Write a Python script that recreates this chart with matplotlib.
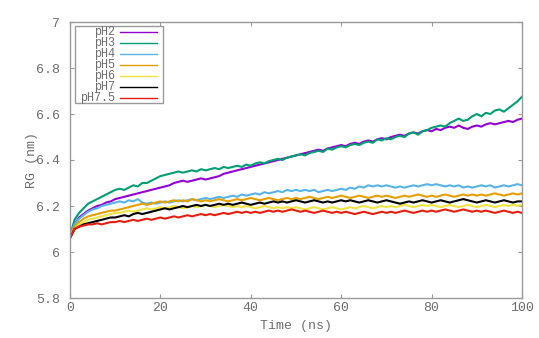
"""
plot.py
Radius of gyration vs time for the pH series, gnuplot look.
"""

import numpy as np
import matplotlib
matplotlib.use("Agg")
import matplotlib.pyplot as plt

# ---- data (1 ns steps) ----
TIME = np.arange(0, 101)

RG_PH2 = [6.07, 6.12, 6.15, 6.165, 6.18, 6.19, 6.20, 6.205, 6.215, 6.22, 6.23,
          6.235, 6.24, 6.245, 6.25, 6.255, 6.26, 6.265, 6.27, 6.275, 6.28,
          6.285, 6.29, 6.30, 6.305, 6.31, 6.305, 6.31, 6.315, 6.32, 6.315,
          6.32, 6.325, 6.33, 6.34, 6.345, 6.35, 6.355, 6.36, 6.365, 6.37,
          6.375, 6.38, 6.385, 6.39, 6.395, 6.40, 6.405, 6.41, 6.415, 6.42,
          6.425, 6.43, 6.435, 6.44, 6.445, 6.44, 6.45, 6.455, 6.46, 6.465,
          6.46, 6.47, 6.475, 6.47, 6.48, 6.485, 6.48, 6.49, 6.495, 6.49,
          6.50, 6.505, 6.51, 6.505, 6.515, 6.52, 6.515, 6.525, 6.53, 6.525,
          6.535, 6.53, 6.54, 6.545, 6.54, 6.55, 6.54, 6.535, 6.545, 6.55,
          6.545, 6.555, 6.56, 6.555, 6.56, 6.565, 6.57, 6.565, 6.575, 6.58]

RG_PH3 = [6.07, 6.14, 6.17, 6.19, 6.21, 6.22, 6.23, 6.24, 6.25, 6.26, 6.27,
          6.275, 6.27, 6.28, 6.29, 6.285, 6.30, 6.30, 6.31, 6.32, 6.33,
          6.335, 6.34, 6.345, 6.35, 6.345, 6.35, 6.355, 6.35, 6.36, 6.355,
          6.36, 6.365, 6.36, 6.37, 6.365, 6.37, 6.375, 6.37, 6.38, 6.375,
          6.385, 6.39, 6.385, 6.395, 6.40, 6.405, 6.40, 6.41, 6.415, 6.42,
          6.425, 6.42, 6.43, 6.435, 6.44, 6.435, 6.45, 6.445, 6.455, 6.46,
          6.455, 6.465, 6.47, 6.465, 6.475, 6.48, 6.475, 6.49, 6.485, 6.495,
          6.49, 6.50, 6.505, 6.50, 6.515, 6.52, 6.51, 6.525, 6.53, 6.54,
          6.545, 6.55, 6.545, 6.56, 6.57, 6.58, 6.57, 6.575, 6.59, 6.60,
          6.59, 6.605, 6.60, 6.615, 6.62, 6.61, 6.625, 6.64, 6.655, 6.675]

RG_PH4 = [6.07, 6.12, 6.145, 6.16, 6.175, 6.185, 6.19, 6.20, 6.205, 6.21, 6.215,
          6.22, 6.215, 6.225, 6.22, 6.23, 6.215, 6.21, 6.215, 6.21, 6.215,
          6.22, 6.215, 6.22, 6.225, 6.22, 6.225, 6.23, 6.225, 6.23, 6.235,
          6.23, 6.235, 6.24, 6.235, 6.24, 6.245, 6.24, 6.25, 6.245, 6.25,
          6.255, 6.25, 6.26, 6.255, 6.26, 6.265, 6.26, 6.27, 6.265, 6.27,
          6.265, 6.27, 6.265, 6.27, 6.26, 6.265, 6.27, 6.265, 6.27, 6.275,
          6.27, 6.28, 6.275, 6.285, 6.28, 6.29, 6.285, 6.29, 6.285, 6.29,
          6.285, 6.28, 6.285, 6.28, 6.285, 6.29, 6.285, 6.29, 6.295, 6.29,
          6.295, 6.29, 6.285, 6.29, 6.285, 6.29, 6.28, 6.285, 6.28, 6.285,
          6.29, 6.285, 6.29, 6.28, 6.285, 6.29, 6.285, 6.29, 6.295, 6.29]

RG_PH5 = [6.07, 6.11, 6.13, 6.145, 6.155, 6.16, 6.165, 6.17, 6.175, 6.18, 6.18,
          6.185, 6.19, 6.195, 6.20, 6.205, 6.21, 6.205, 6.21, 6.215, 6.22,
          6.215, 6.22, 6.225, 6.22, 6.225, 6.22, 6.23, 6.225, 6.22, 6.225,
          6.22, 6.225, 6.23, 6.225, 6.22, 6.225, 6.23, 6.225, 6.23, 6.235,
          6.23, 6.225, 6.23, 6.235, 6.23, 6.225, 6.23, 6.235, 6.23, 6.235,
          6.23, 6.235, 6.24, 6.235, 6.23, 6.235, 6.24, 6.235, 6.24, 6.245,
          6.24, 6.235, 6.24, 6.245, 6.24, 6.235, 6.24, 6.245, 6.24, 6.245,
          6.24, 6.235, 6.24, 6.245, 6.24, 6.245, 6.25, 6.245, 6.24, 6.245,
          6.24, 6.245, 6.25, 6.245, 6.24, 6.245, 6.25, 6.245, 6.25, 6.245,
          6.25, 6.245, 6.25, 6.255, 6.25, 6.245, 6.25, 6.255, 6.25, 6.255]

RG_PH6 = [6.07, 6.10, 6.12, 6.13, 6.14, 6.145, 6.15, 6.155, 6.16, 6.165, 6.17,
          6.17, 6.175, 6.18, 6.175, 6.18, 6.185, 6.19, 6.185, 6.19, 6.195,
          6.19, 6.195, 6.20, 6.195, 6.19, 6.195, 6.20, 6.195, 6.20, 6.205,
          6.20, 6.195, 6.20, 6.205, 6.20, 6.195, 6.20, 6.195, 6.20, 6.195,
          6.19, 6.195, 6.20, 6.195, 6.19, 6.195, 6.19, 6.195, 6.19, 6.195,
          6.19, 6.185, 6.19, 6.195, 6.19, 6.185, 6.19, 6.195, 6.19, 6.185,
          6.19, 6.195, 6.19, 6.195, 6.20, 6.195, 6.19, 6.195, 6.20, 6.195,
          6.20, 6.195, 6.20, 6.205, 6.20, 6.195, 6.20, 6.205, 6.20, 6.205,
          6.20, 6.195, 6.20, 6.205, 6.20, 6.195, 6.20, 6.205, 6.20, 6.195,
          6.20, 6.205, 6.20, 6.195, 6.20, 6.205, 6.20, 6.205, 6.20, 6.205]

RG_PH7 = [6.06, 6.10, 6.11, 6.12, 6.125, 6.13, 6.135, 6.14, 6.145, 6.15, 6.15,
          6.155, 6.16, 6.155, 6.165, 6.17, 6.165, 6.17, 6.175, 6.18, 6.185,
          6.19, 6.185, 6.19, 6.195, 6.20, 6.195, 6.20, 6.205, 6.20, 6.205,
          6.20, 6.205, 6.21, 6.205, 6.21, 6.205, 6.21, 6.215, 6.21, 6.205,
          6.21, 6.215, 6.21, 6.215, 6.22, 6.215, 6.22, 6.215, 6.22, 6.225,
          6.22, 6.215, 6.22, 6.225, 6.22, 6.215, 6.22, 6.215, 6.22, 6.225,
          6.22, 6.225, 6.22, 6.215, 6.22, 6.225, 6.22, 6.215, 6.22, 6.225,
          6.22, 6.215, 6.21, 6.215, 6.22, 6.215, 6.22, 6.225, 6.22, 6.215,
          6.22, 6.225, 6.22, 6.215, 6.22, 6.225, 6.23, 6.225, 6.22, 6.215,
          6.22, 6.225, 6.22, 6.215, 6.22, 6.225, 6.22, 6.215, 6.22, 6.22]

RG_PH75 = [6.06, 6.10, 6.11, 6.115, 6.12, 6.12, 6.125, 6.12, 6.125, 6.13, 6.13,
           6.135, 6.13, 6.135, 6.14, 6.135, 6.14, 6.145, 6.14, 6.145, 6.15,
           6.145, 6.15, 6.155, 6.15, 6.155, 6.16, 6.155, 6.16, 6.165, 6.16,
           6.165, 6.16, 6.165, 6.17, 6.165, 6.17, 6.175, 6.17, 6.175, 6.17,
           6.175, 6.17, 6.175, 6.18, 6.175, 6.18, 6.175, 6.18, 6.185, 6.18,
           6.175, 6.18, 6.175, 6.17, 6.175, 6.18, 6.175, 6.17, 6.175, 6.17,
           6.175, 6.17, 6.165, 6.17, 6.175, 6.17, 6.165, 6.17, 6.175, 6.17,
           6.175, 6.17, 6.175, 6.18, 6.175, 6.17, 6.175, 6.18, 6.175, 6.18,
           6.175, 6.18, 6.185, 6.18, 6.175, 6.18, 6.185, 6.18, 6.175, 6.18,
           6.175, 6.18, 6.175, 6.17, 6.175, 6.18, 6.175, 6.17, 6.175, 6.17]

LABELS = ["pH2", "pH3", "pH4", "pH5", "pH6", "pH7", "pH7.5"]
SERIES = [RG_PH2, RG_PH3, RG_PH4, RG_PH5, RG_PH6, RG_PH7, RG_PH75]
COLORS = ["#9400d3", "#009e73", "#56b4e9", "#e69f00", "#f0e442", "#000000", "#e51e10"]

X_TICKS = [0, 20, 40, 60, 80, 100]
Y_TICKS = [5.8, 6.0, 6.2, 6.4, 6.6, 6.8, 7.0]
Y_TICKLABELS = ["5.8", "6", "6.2", "6.4", "6.6", "6.8", "7"]

# ---- style ----
FONT = "Liberation Mono"
TXT = "#6e6e6e"
FRAME = "#9a9a9a"

fig = plt.figure(figsize=(5.39, 3.38), dpi=100)
ax = fig.add_axes([70 / 539, 1 - 298 / 338, 452 / 539, 276 / 338])

for y, color in zip(SERIES, COLORS):
    ax.plot(TIME, y, color=color, lw=1.5, solid_joinstyle="round")

ax.set_xlim(0, 100)
ax.set_ylim(5.8, 7.0)
ax.set_xticks(X_TICKS)
ax.set_yticks(Y_TICKS)
ax.set_yticklabels(Y_TICKLABELS)
ax.tick_params(direction="in", length=3, width=0.8, color=FRAME,
               top=True, right=True, labelsize=9.5, labelcolor=TXT)
ax.tick_params(axis="y", pad=7)
ax.tick_params(axis="x", pad=3)
for lbl in ax.get_xticklabels() + ax.get_yticklabels():
    lbl.set_family(FONT)
for sp in ax.spines.values():
    sp.set_color(FRAME)
    sp.set_linewidth(1.0)

ax.set_xlabel("Time (ns)", family=FONT, fontsize=9.5, color=TXT, labelpad=4)
ax.set_ylabel("RG (nm)", family=FONT, fontsize=9.5, color=TXT, labelpad=-1)

# ---- gnuplot-style key: right-aligned labels, sample line after ----
tr = ax.transAxes
box = plt.Rectangle((0.011, 0.7065), 0.195, 0.279, transform=tr,
                    fill=False, ec=FRAME, lw=1.0)
ax.add_patch(box)
for i, (lab, color) in enumerate(zip(LABELS, COLORS)):
    yy = (298 - 32 - 11 * i) / 276
    ax.text(0.0996, yy, lab, transform=tr, ha="right", va="center",
            family=FONT, fontsize=8.5, color=TXT)
    ax.plot([0.1106, 0.1925], [yy, yy], transform=tr, color=color, lw=1.0)

fig.savefig("out.png", dpi=100)
